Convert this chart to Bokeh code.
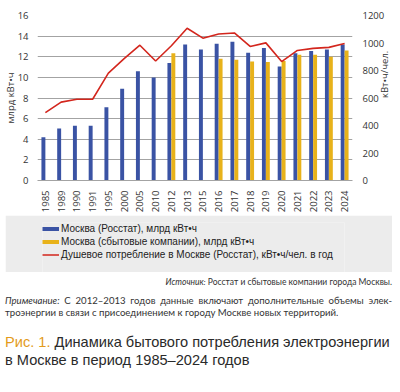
import math
from bokeh.plotting import figure
from bokeh.models import (ColumnDataSource, FactorRange, Range1d, LinearAxis, FixedTicker,
                          Legend, LegendItem, Div)
from bokeh.transform import dodge
from bokeh.layouts import column
from bokeh.embed import file_html
from bokeh.resources import INLINE

# ---------------- data ----------------
years = ["1985", "1989", "1990", "1991", "1995", "2000", "2005", "2010", "2012", "2013",
         "2015", "2016", "2017", "2018", "2019", "2020", "2021", "2022", "2023", "2024"]
rosstat_bn_kwh = [4.2, 5.05, 5.3, 5.3, 7.1, 8.9, 10.6, 10.0, 11.4, 13.2,
                  12.7, 13.25, 13.45, 12.4, 12.85, 11.05, 12.35, 12.55, 12.7, 13.2]
sales_years = ["2012", "2016", "2017", "2018", "2019", "2020", "2021", "2022", "2023", "2024"]
sales_bn_kwh = [12.35, 11.8, 11.7, 11.55, 11.5, 11.6, 12.2, 12.2, 12.0, 12.6]
per_capita_kwh = [494, 570, 591, 591, 781, 886, 984, 869, 980, 1107,
                  1035, 1066, 1073, 975, 1001, 865, 946, 961, 968, 997]
left_ticks = [0, 2, 4, 6, 8, 10, 12, 14, 16]
right_ticks = [0, 200, 400, 600, 800, 1000, 1200]

label_rosstat = "Москва (Росстат), млрд кВт•ч"
label_sales = "Москва (сбытовые компании), млрд кВт•ч"
label_pc = "Душевое потребление в Москве (Росстат), кВт•ч/чел. в год"

BLUE = "#3a53a4"
YELLOW = "#e8b21a"
RED = "#d3261d"
GRID = "#a3a3a3"
TXT = "#333333"
FONT = "Open Sans"
LEG_FONT = "Liberation Sans"

src = ColumnDataSource(dict(year=years, rosstat=rosstat_bn_kwh, pc=per_capita_kwh))
src_sales = ColumnDataSource(dict(year=sales_years, sales=sales_bn_kwh))

# ---------------- chart ----------------
p = figure(width=400, height=215,
           x_range=FactorRange(factors=years, range_padding=0, factor_padding=0),
           y_range=Range1d(0, 16),
           output_backend="svg", toolbar_location=None,
           min_border_left=33, min_border_right=46, min_border_top=15, min_border_bottom=33,
           outline_line_color=None, background_fill_color="white", border_fill_color="white")
p.extra_y_ranges = {"right": Range1d(0, 1200)}

p.vbar(x=dodge("year", -0.125, range=p.x_range), top="rosstat", width=0.25,
       source=src, fill_color=BLUE, line_color=None)
p.vbar(x=dodge("year", 0.125, range=p.x_range), top="sales", width=0.25,
       source=src_sales, fill_color=YELLOW, line_color=None)
p.line(x="year", y="pc", source=src, y_range_name="right", line_color=RED, line_width=1.6)

p.xgrid.visible = False
p.ygrid.ticker = FixedTicker(ticks=left_ticks)
p.ygrid.grid_line_color = GRID
p.ygrid.grid_line_width = 1

ax = p.xaxis[0]
ax.major_label_orientation = math.pi / 2
ax.major_label_text_font = FONT
ax.major_label_text_font_size = "9.5px"
ax.major_label_text_color = TXT
ax.major_label_standoff = 4
ax.axis_line_color = GRID
ax.major_tick_line_color = None
ax.minor_tick_line_color = None

ly = p.yaxis[0]
ly.ticker = FixedTicker(ticks=left_ticks)
ly.axis_label = "млрд кВт•ч"

ry = LinearAxis(y_range_name="right", axis_label="кВт•ч/чел.")
ry.ticker = FixedTicker(ticks=right_ticks)
if "axis_label_orientation" in LinearAxis.properties():
    ry.axis_label_orientation = math.pi / 2
p.add_layout(ry, "right")

for a in (ly, ry):
    a.axis_line_color = None
    a.major_tick_line_color = None
    a.minor_tick_line_color = None
    a.major_label_text_font = FONT
    a.major_label_text_font_size = "9.5px"
    a.major_label_text_color = TXT
    a.major_label_standoff = 3
    a.axis_label_text_font = FONT
    a.axis_label_text_font_size = "9.5px"
    a.axis_label_text_font_style = "normal"
    a.axis_label_text_color = TXT
    a.axis_label_standoff = -2
ry.major_label_standoff = 4
ry.axis_label_standoff = -3

# ---------------- legend panel ----------------
lg = figure(width=387, height=57, x_range=Range1d(0, 1), y_range=Range1d(0, 1),
            output_backend="svg", toolbar_location=None,
            x_axis_location=None, y_axis_location=None,
            min_border_left=35, min_border_top=7, min_border_right=0, min_border_bottom=0,
            outline_line_color=None, background_fill_color="#ececec",
            border_fill_color="#ececec", margin=(0, 0, 0, 5))
lg.grid.visible = False
r1 = lg.line(x=[0], y=[0], line_color=BLUE, line_width=4)
r2 = lg.line(x=[0], y=[0], line_color=YELLOW, line_width=4)
r3 = lg.line(x=[0], y=[0], line_color=RED, line_width=1.5)
legend = Legend(items=[LegendItem(label=label_rosstat, renderers=[r1]),
                       LegendItem(label=label_sales, renderers=[r2]),
                       LegendItem(label=label_pc, renderers=[r3])],
                location="top_left", orientation="vertical",
                glyph_width=17, glyph_height=13, label_height=13, label_width=300,
                label_standoff=2, spacing=0, padding=0, margin=0,
                background_fill_alpha=0, border_line_color=None,
                label_text_font=LEG_FONT, label_text_font_size="10px",
                label_text_color="#222222")
lg.add_layout(legend)

# ---------------- texts ----------------
notes_text = ('<div style="font-family:Lato;color:#333;width:387px;">'
              '<div style="font-size:8.5px;line-height:12px;text-align:right;padding-top:4px;'
              'padding-bottom:7px;white-space:nowrap;">'
              '<i>Источник:</i> Росстат и сбытовые компании города Москвы.</div>'
              '<div style="font-size:9.6px;line-height:12px;text-align:justify;text-align-last:justify;">'
              '<i>Примечание:</i> С 2012–2013 годов данные включают дополнительные объемы элек-</div>'
              '<div style="font-size:9.6px;line-height:12px;white-space:nowrap;">'
              'троэнергии в связи с присоединением к городу Москве новых территорий.</div>'
              '</div>')
title_text = ('<div style="font-family:\'Liberation Sans\';font-size:14.6px;line-height:18px;color:#2a2a2a;'
              'padding-top:12px;width:390px;white-space:nowrap;">'
              '<span style="color:#e39b1b;">Рис. 1.</span> Динамика бытового потребления электроэнергии<br>'
              'в Москве в период 1985–2024 годов</div>')

d1 = Div(text=notes_text, width=387, height=49, margin=(0, 0, 0, 5))
d3 = Div(text=title_text, width=390, height=50, margin=(0, 0, 0, 5))

layout = column(p, lg, d1, d3, spacing=0)

open("out.html", "w").write(file_html(layout, INLINE))
